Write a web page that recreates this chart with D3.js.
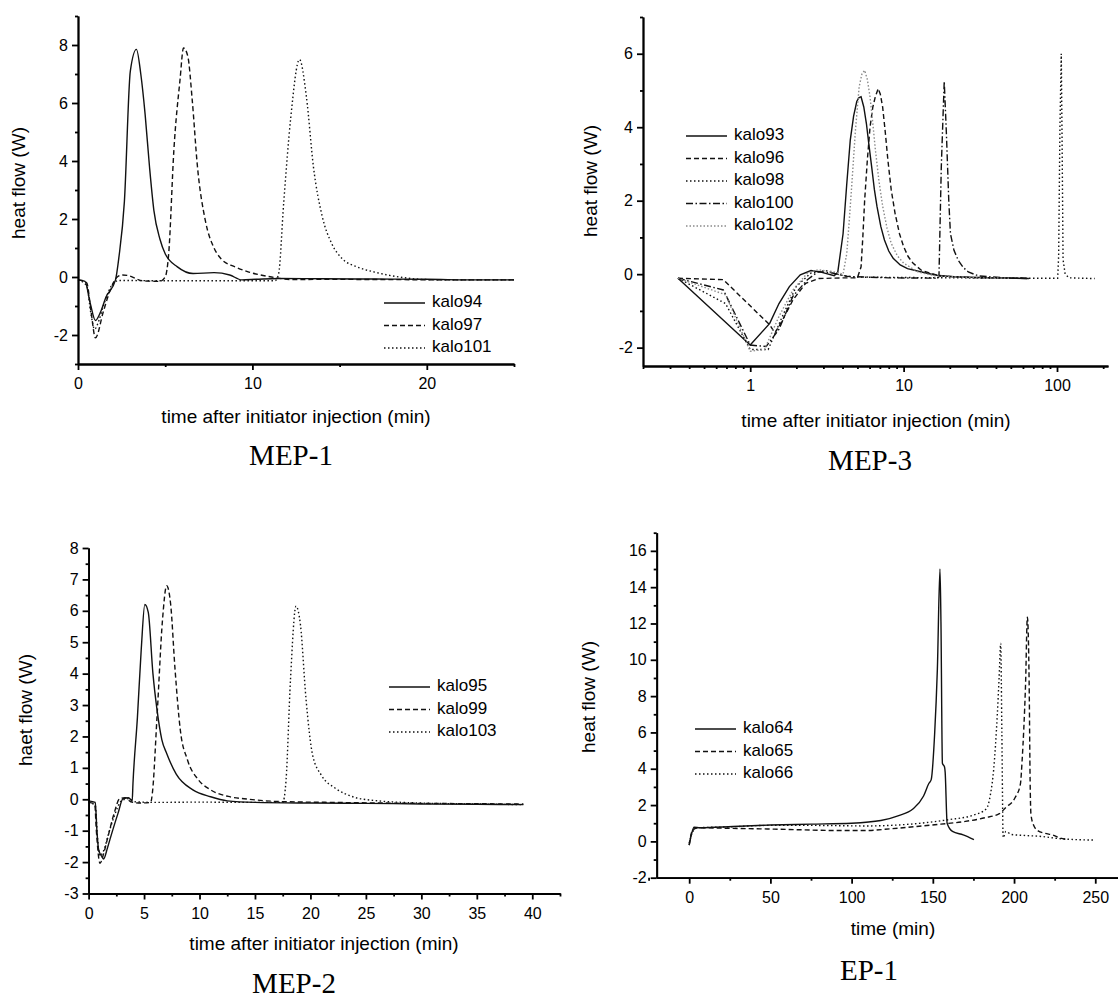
<!DOCTYPE html>
<html>
<head>
<meta charset="utf-8">
<script src="https://cdn.jsdelivr.net/npm/d3@7"></script>
<style>
  body { margin: 0; background: #fff; }
  svg { display: block; }
  text { font-family: "Liberation Sans", Arial, sans-serif; fill: #000; }
  .caption { font-family: "Liberation Serif", "Times New Roman", serif; }
</style>
</head>
<body>
<svg id="chart" width="1118" height="999"></svg>
<script>
// ---- MEP-1 (time in min, heat flow in W)
const mep1Kalo94 = [[0,-0.1],[0.4,-0.15],[0.7,-0.9],[1.0,-1.5],[1.3,-1.2],[1.6,-0.7],[2.15,-0.1],[2.35,0.7],[2.66,2.6],[3.0,7.1],[3.35,7.85],[3.6,7.0],[3.85,5.6],[4.1,3.8],[4.35,2.3],[4.7,1.3],[5.0,0.8],[5.7,0.35],[6.6,0.12],[7.8,0.15],[8.7,0.07],[9.4,-0.1],[10.2,-0.08],[11.5,-0.05],[14,-0.06],[17,-0.07],[20,-0.08],[23,-0.1],[25,-0.1]];
const mep1Kalo97 = [[0,-0.1],[0.5,-0.2],[0.75,-1.2],[1.0,-2.1],[1.45,-1.2],[1.85,-0.45],[2.25,0],[2.55,0.07],[2.87,0.05],[3.7,-0.13],[4.7,-0.15],[5.0,0],[5.2,0.8],[5.5,4.4],[5.85,6.8],[6.05,7.9],[6.3,7.6],[6.55,6.1],[6.85,3.8],[7.3,1.95],[7.8,1.0],[8.2,0.63],[9.0,0.35],[9.8,0.17],[11.1,0.0],[12.3,-0.09],[14,-0.08],[18,-0.09],[22,-0.1],[25,-0.1]];
const mep1Kalo101 = [[0,-0.1],[0.5,-0.3],[0.75,-1.3],[0.95,-1.8],[1.2,-1.5],[1.45,-1.0],[2.05,-0.2],[2.35,-0.12],[5,-0.13],[8,-0.13],[11.3,-0.13],[11.5,0.1],[11.8,2.6],[12.2,5.5],[12.7,7.5],[13.1,6.2],[13.5,3.8],[14.0,2.1],[14.55,1.15],[15.15,0.63],[16.0,0.35],[17.0,0.17],[18.2,0.02],[20.1,-0.09],[22.5,-0.1],[25,-0.1]];

// ---- MEP-3 (log time axis)
const mep3Kalo93 = [[0.338,-0.11],[1.0,-1.93],[1.34,-1.34],[1.54,-0.8],[1.8,-0.34],[2.12,-0.02],[2.49,0.1],[2.93,0.05],[3.53,-0.04],[3.72,0.05],[4.03,1.1],[4.25,2.4],[4.49,3.65],[4.72,4.3],[4.95,4.7],[5.1,4.8],[5.28,4.83],[5.5,4.55],[5.72,4.1],[5.95,3.5],[6.2,2.9],[6.45,2.3],[6.7,1.85],[7.1,1.3],[7.5,0.93],[8.0,0.63],[8.55,0.43],[9.5,0.25],[10.6,0.15],[13.1,0.06],[16.3,-0.03],[21.3,-0.07],[40,-0.1],[65.6,-0.12]];
const mep3Kalo96 = [[0.338,-0.11],[0.668,-0.15],[1.34,-1.38],[1.45,-1.6],[1.6,-1.3],[1.9,-0.7],[2.3,-0.25],[2.8,-0.12],[4.0,-0.1],[5.0,-0.1],[5.28,0.2],[5.42,1.0],[5.57,2.0],[5.8,3.1],[6.04,4.0],[6.3,4.55],[6.54,4.83],[6.83,5.05],[7.05,4.9],[7.3,4.55],[7.6,3.85],[7.9,3.1],[8.3,2.3],[8.8,1.65],[9.4,1.1],[10.0,0.75],[10.7,0.48],[11.5,0.3],[13.1,0.1],[17.2,-0.05],[30,-0.1],[62,-0.11]];
const mep3Kalo98 = [[0.338,-0.11],[0.69,-0.8],[1.0,-2.05],[1.31,-2.05],[1.62,-1.15],[2.0,-0.33],[2.49,0.03],[3.1,0.1],[3.83,-0.02],[4.74,-0.08],[20,-0.1],[60,-0.11],[101,-0.11],[102.5,0.5],[104.5,4.0],[106.6,6.0],[108,3.5],[109.5,0.4],[113,0.0],[120,-0.1],[176,-0.12]];
const mep3Kalo100 = [[0.338,-0.11],[0.668,-0.43],[1.0,-1.93],[1.27,-1.97],[1.54,-1.5],[1.9,-0.6],[2.36,-0.15],[2.77,0.07],[3.43,0.03],[4.26,-0.06],[8,-0.1],[16.7,-0.11],[17.0,-0.07],[17.6,2.9],[18.4,5.25],[19.0,3.85],[19.7,2.0],[20.2,1.1],[21.3,0.65],[22.7,0.38],[24.5,0.18],[26.4,0.06],[30.9,-0.05],[45,-0.1],[65,-0.12]];
const mep3Kalo102 = [[0.338,-0.11],[0.69,-0.56],[1.0,-2.1],[1.24,-2.05],[1.54,-1.15],[1.9,-0.43],[2.36,0.03],[2.77,0.12],[3.43,0.07],[4.03,0.0],[4.26,0.56],[4.43,1.5],[4.6,2.47],[4.85,3.9],[5.13,5.1],[5.35,5.45],[5.57,5.55],[5.8,5.3],[6.04,4.83],[6.3,4.1],[6.54,3.4],[6.9,2.55],[7.3,1.85],[7.8,1.25],[8.3,0.84],[9.1,0.5],[10,0.3],[12.4,0.06],[16.3,-0.05],[30,-0.1],[50,-0.11]];

// ---- MEP-2
const mep2Kalo95 = [[0,-0.05],[0.6,-0.1],[0.75,-1.0],[0.9,-1.6],[1.2,-1.83],[1.35,-1.9],[1.7,-1.55],[2.0,-1.19],[2.65,-0.45],[3.1,0.02],[3.6,0.05],[3.93,-0.05],[4.0,0.5],[4.4,2.6],[4.75,4.8],[5.07,6.2],[5.38,5.95],[5.8,4.0],[6.15,2.9],[6.6,1.9],[7.05,1.45],[7.9,0.8],[9.4,0.3],[11,0.08],[12.5,-0.05],[15,-0.1],[20,-0.12],[25,-0.13],[30,-0.15],[35,-0.16],[39.2,-0.17]];
const mep2Kalo99 = [[0,-0.1],[0.55,-0.15],[0.7,-1.0],[1.03,-2.04],[1.3,-1.8],[1.67,-1.3],[2.3,-0.45],[2.8,0.02],[3.3,0.05],[3.8,-0.08],[4.5,-0.12],[5.6,-0.1],[5.75,0.2],[6.18,2.7],[6.66,5.7],[7.04,6.8],[7.4,6.2],[7.78,4.2],[8.27,2.2],[8.91,1.26],[9.9,0.62],[11.0,0.3],[12.6,0.09],[14.5,0.0],[17,-0.07],[22,-0.1],[30,-0.13],[39.2,-0.15]];
const mep2Kalo103 = [[0,-0.1],[0.6,-0.2],[0.8,-1.2],[1.0,-1.8],[1.4,-1.6],[1.8,-1.1],[2.3,-0.55],[2.96,-0.05],[3.6,0.02],[4.2,-0.08],[6,-0.1],[10,-0.09],[14,-0.1],[17.5,-0.1],[17.8,0.6],[18.2,3.8],[18.7,6.15],[19.1,5.55],[19.6,3.2],[20.2,1.4],[21.0,0.76],[22.3,0.34],[23.9,0.07],[25.5,-0.03],[30,-0.12],[35,-0.15],[39.2,-0.17]];

// ---- EP-1
const ep1Kalo64 = [[0,-0.2],[1.5,0.42],[3,0.78],[6.7,0.75],[27,0.82],[50,0.9],[75,0.95],[100,1.0],[118,1.15],[129,1.42],[137.7,1.78],[144.3,2.5],[147.6,3.2],[149,3.4],[151.1,5.9],[152.8,9.5],[154.4,15.0],[155,12.1],[155.9,4.3],[157.2,4.1],[157.6,3.8],[158.8,1.0],[162.1,0.55],[168.7,0.36],[175.3,0.1]];
const ep1Kalo65 = [[0,-0.2],[2,0.6],[5,0.75],[25,0.72],[50,0.68],[68,0.64],[90,0.6],[109,0.6],[125,0.7],[140,0.82],[155,0.95],[170,1.1],[182,1.3],[191,1.53],[195,1.87],[200.6,2.4],[203.9,3.15],[205,4.5],[206,6.2],[207.1,8.7],[208.2,12.35],[209.3,8.7],[209.9,3.3],[210.4,1.5],[212,0.9],[214.8,0.58],[219.2,0.44],[223.6,0.36],[228,0.2],[232.4,0.1]];
const ep1Kalo66 = [[0,-0.1],[2,0.5],[5,0.75],[25,0.8],[47.6,0.88],[75,0.88],[109,0.85],[140,0.98],[160,1.2],[175,1.45],[183,1.8],[185.5,2.6],[187.5,4.0],[189.7,7.0],[190.8,9.0],[191.8,10.9],[192.5,6.0],[193.3,0.2],[195,0.55],[198.4,0.38],[206,0.33],[217,0.27],[228,0.15],[250,0.07]];

// tick values
const mep1XMajor = [0, 10, 20], mep1XMinor = [5, 15, 25];
const mep1YMajor = [-2, 0, 2, 4, 6, 8], mep1YMinor = [-3, -1, 1, 3, 5, 7, 9];
const mep3XMajor = [1, 10, 100], mep3XMinor = [0.2,0.3,0.4,0.5,0.6,0.7,0.8,0.9,2,3,4,5,6,7,8,9,20,30,40,50,60,70,80,90,200];
const mep3YMajor = [-2, 0, 2, 4, 6], mep3YMinor = [-1, 1, 3, 5, 7];
const mep2XMajor = [0,5,10,15,20,25,30,35,40], mep2XMinor = [2.5,7.5,12.5,17.5,22.5,27.5,32.5,37.5,42.5];
const mep2YMajor = [-3,-2,-1,0,1,2,3,4,5,6,7,8], mep2YMinor = [-2.5,-1.5,-0.5,0.5,1.5,2.5,3.5,4.5,5.5,6.5,7.5];
const ep1XMajor = [0,50,100,150,200,250], ep1XMinor = [-25,25,75,125,175,225];
const ep1YMajor = [-2,0,2,4,6,8,10,12,14,16], ep1YMinor = [-1,1,3,5,7,9,11,13,15,17];

const dashStyles = {
  solid: null,
  dash: "5,3",
  dot: "1.5,2.5",
  dashdot: "7,2.5,1.5,2.5",
  grey: "1.5,2"
};

const panels = [
  {
    caption: "MEP-1", xTitle: "time after initiator injection (min)", yTitle: "heat flow (W)",
    log: false, curve: d3.curveMonotoneX, xDomain: [0, 25], yDomain: [-3, 9],
    left: 78, right: 514, top: 16, bottom: 364,
    xMajor: mep1XMajor, xMinor: mep1XMinor, yMajor: mep1YMajor, yMinor: mep1YMinor,
    yTitlePos: [20, 183], xTitlePos: [296, 418], capPos: [291, 465],
    legend: { x: 384, y: 303 },
    series: [
      { name: "kalo94", data: mep1Kalo94, style: "solid" },
      { name: "kalo97", data: mep1Kalo97, style: "dash" },
      { name: "kalo101", data: mep1Kalo101, style: "dot" }
    ]
  },
  {
    caption: "MEP-3", xTitle: "time after initiator injection (min)", yTitle: "heat flow (W)",
    log: true, curve: d3.curveLinear, xDomain: [0.2, 215], yDomain: [-2.5, 7],
    left: 643, right: 1108, top: 17, bottom: 366,
    xMajor: mep3XMajor, xMinor: mep3XMinor, yMajor: mep3YMajor, yMinor: mep3YMinor,
    yTitlePos: [592, 181], xTitlePos: [876, 422], capPos: [870, 470],
    legend: { x: 686, y: 136 },
    series: [
      { name: "kalo93", data: mep3Kalo93, style: "solid" },
      { name: "kalo96", data: mep3Kalo96, style: "dash" },
      { name: "kalo98", data: mep3Kalo98, style: "dot" },
      { name: "kalo100", data: mep3Kalo100, style: "dashdot" },
      { name: "kalo102", data: mep3Kalo102, style: "grey" }
    ]
  },
  {
    caption: "MEP-2", xTitle: "time after initiator injection (min)", yTitle: "haet flow (W)",
    log: false, curve: d3.curveMonotoneX, xDomain: [0, 42.5], yDomain: [-3, 8],
    left: 88.6, right: 560, top: 548, bottom: 893.5,
    xMajor: mep2XMajor, xMinor: mep2XMinor, yMajor: mep2YMajor, yMinor: mep2YMinor,
    yTitlePos: [27, 710], xTitlePos: [324, 945], capPos: [294, 993],
    legend: { x: 389, y: 687 },
    series: [
      { name: "kalo95", data: mep2Kalo95, style: "solid" },
      { name: "kalo99", data: mep2Kalo99, style: "dash" },
      { name: "kalo103", data: mep2Kalo103, style: "dot" }
    ]
  },
  {
    caption: "EP-1", xTitle: "time (min)", yTitle: "heat flow (W)",
    log: false, curve: d3.curveMonotoneX, xDomain: [-20, 264], yDomain: [-2, 17],
    left: 656.7, right: 1118, top: 532.7, bottom: 877.7,
    xMajor: ep1XMajor, xMinor: ep1XMinor, yMajor: ep1YMajor, yMinor: ep1YMinor,
    yTitlePos: [590, 697], xTitlePos: [893, 930], capPos: [869, 980],
    legend: { x: 695, y: 729 },
    series: [
      { name: "kalo64", data: ep1Kalo64, style: "solid" },
      { name: "kalo65", data: ep1Kalo65, style: "dash" },
      { name: "kalo66", data: ep1Kalo66, style: "dot" }
    ]
  }
];

const svg = d3.select("#chart");

function styleLine(sel, style) {
  sel.attr("fill", "none")
    .attr("stroke", style === "grey" ? "#8a8a8a" : "#111")
    .attr("stroke-width", 1.4)
    .attr("stroke-dasharray", dashStyles[style]);
}

function drawPanel(p) {
  const g = svg.append("g");

  const x = (p.log ? d3.scaleLog() : d3.scaleLinear())
    .domain(p.xDomain).range([p.left, p.right]);
  const y = d3.scaleLinear().domain(p.yDomain).range([p.bottom, p.top]);

  // curves
  const line = d3.line()
    .x(d => x(d[0]))
    .y(d => y(d[1]))
    .curve(p.curve);

  p.series.forEach(s => {
    g.append("path").datum(s.data).attr("d", line).call(styleLine, s.style);
  });

  // x axis: minor then major
  const fmt = d => String(d);
  g.append("g").attr("transform", `translate(0,${p.bottom})`)
    .call(d3.axisBottom(x).tickValues(p.xMinor).tickSize(3).tickSizeOuter(0).tickFormat(""));
  g.append("g").attr("transform", `translate(0,${p.bottom})`)
    .call(d3.axisBottom(x).tickValues(p.xMajor).tickSize(6).tickSizeOuter(0).tickPadding(8).tickFormat(fmt));

  // y axis
  g.append("g").attr("transform", `translate(${p.left},0)`)
    .call(d3.axisLeft(y).tickValues(p.yMinor).tickSize(3).tickSizeOuter(0).tickFormat(""));
  g.append("g").attr("transform", `translate(${p.left},0)`)
    .call(d3.axisLeft(y).tickValues(p.yMajor).tickSize(6).tickSizeOuter(0).tickPadding(4).tickFormat(fmt));

  g.selectAll(".domain, .tick line").attr("stroke", "#000").attr("stroke-width", 1.8);
  g.selectAll(".tick text").attr("font-size", 16).attr("font-family", "Liberation Sans, Arial, sans-serif").attr("fill", "#000");

  // titles
  g.append("text")
    .attr("x", p.xTitlePos[0]).attr("y", p.xTitlePos[1])
    .attr("text-anchor", "middle").attr("dominant-baseline", "middle")
    .attr("font-size", 19).text(p.xTitle);

  g.append("text")
    .attr("transform", `translate(${p.yTitlePos[0]},${p.yTitlePos[1]}) rotate(-90)`)
    .attr("text-anchor", "middle").attr("dominant-baseline", "middle")
    .attr("font-size", 19).text(p.yTitle);

  g.append("text").attr("class", "caption")
    .attr("x", p.capPos[0]).attr("y", p.capPos[1])
    .attr("text-anchor", "middle")
    .attr("font-size", 29).text(p.caption);

  // legend
  const leg = g.append("g").attr("transform", `translate(${p.legend.x},${p.legend.y})`);
  const rows = leg.selectAll("g").data(p.series).enter().append("g")
    .attr("transform", (d, i) => `translate(0,${i * 22.5})`);
  rows.append("line").attr("x1", 0).attr("x2", 41).attr("y1", 0).attr("y2", 0)
    .each(function (d) { d3.select(this).call(styleLine, d.style); });
  rows.append("text").attr("x", 48).attr("y", 0)
    .attr("dominant-baseline", "middle").attr("font-size", 17)
    .text(d => d.name);
}

panels.forEach(drawPanel);
</script>
</body>
</html>
